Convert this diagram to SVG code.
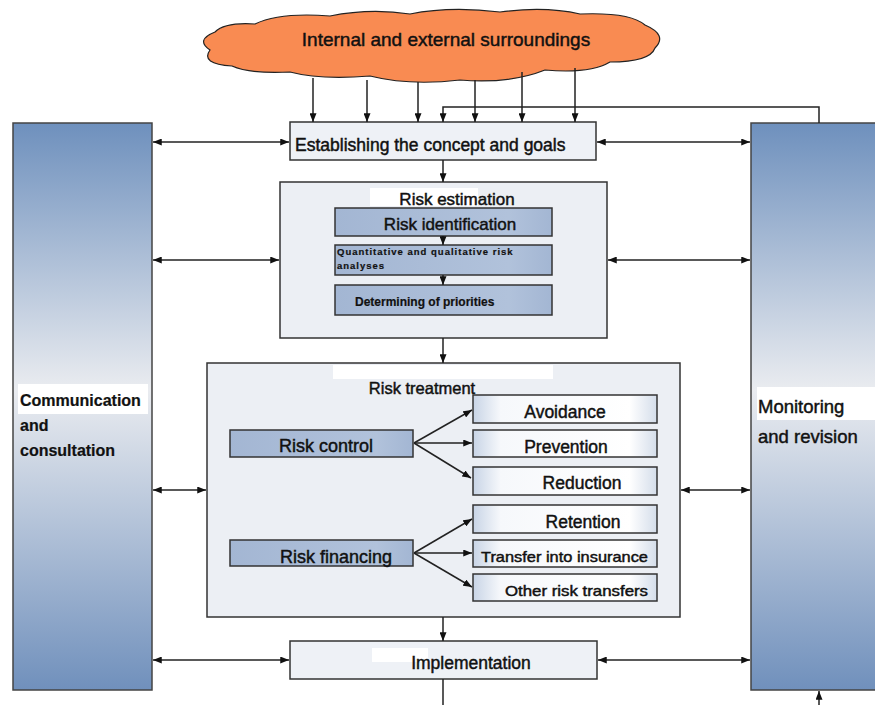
<svg xmlns="http://www.w3.org/2000/svg" width="875" height="705" viewBox="0 0 875 705">
<defs>
<linearGradient id="side" x1="0" y1="0" x2="0" y2="1">
<stop offset="0" stop-color="#6e90bd"/>
<stop offset="0.47" stop-color="#eaecf0"/>
<stop offset="1" stop-color="#7090bc"/>
</linearGradient>
<linearGradient id="inner" x1="0" y1="0" x2="1" y2="0">
<stop offset="0" stop-color="#a3b6d3"/>
<stop offset="0.8" stop-color="#b1c2db"/>
<stop offset="1" stop-color="#a3b6d3"/>
</linearGradient>
<linearGradient id="opt" x1="0" y1="0" x2="1" y2="0">
<stop offset="0" stop-color="#c8d4e6"/>
<stop offset="0.15" stop-color="#f6f8fb"/>
<stop offset="0.85" stop-color="#ffffff"/>
<stop offset="1" stop-color="#d4ddea"/>
</linearGradient>
<marker id="ah" viewBox="0 0 10 8" refX="10" refY="4" markerWidth="9" markerHeight="7" markerUnits="userSpaceOnUse" orient="auto-start-reverse">
<path d="M0,0 L10,4 L0,8 z" fill="#111"/>
</marker>
</defs>
<style>
text{font-family:"Liberation Sans",Arial,sans-serif;fill:#111;stroke:#111;stroke-width:0.45}
.box{stroke:#333;stroke-width:1.5}
.pale{fill:#eef1f6}
.panel{fill:#eceff4}
.inner{fill:url(#inner)}
.opt{fill:url(#opt)}
.side{fill:url(#side);stroke:#444;stroke-width:1.5}
.c{fill:none;stroke:#222;stroke-width:1.5}
.a{marker-end:url(#ah)}
.b{marker-start:url(#ah);marker-end:url(#ah)}
</style>
<rect width="875" height="705" fill="#fff"/>

<g id="cloud">
<path d="M210,50 Q195,40 215,32 Q225,22 255,24 Q280,12 330,16 Q370,8 410,14 Q450,6 500,12 Q545,6 580,14 Q630,12 645,25 Q668,35 655,48 Q650,62 610,62 Q590,74 545,70 Q510,84 460,80 Q410,86 370,76 Q320,80 290,72 Q250,74 232,66 Q200,64 210,50 Z" fill="#f98b52" stroke="#222" stroke-width="1.2"/>
<text x="446" y="46" font-size="19" text-anchor="middle">Internal and external surroundings</text>
</g>

<g id="communication">
<rect class="side" x="13" y="123" width="139" height="567"/>
<rect x="18" y="384" width="130" height="30" fill="#fff"/>
<text x="20" y="406" font-size="16" font-weight="bold" style="stroke-width:0.2">Communication</text>
<text x="20" y="431" font-size="16" font-weight="bold" style="stroke-width:0.2">and</text>
<text x="20" y="456" font-size="16" font-weight="bold" style="stroke-width:0.2">consultation</text>
</g>

<g id="monitoring">
<rect class="side" x="751" y="123" width="130" height="567"/>
<rect x="757" y="387" width="118" height="33" fill="#fff"/>
<text x="758" y="413" font-size="18.5">Monitoring</text>
<text x="758" y="443" font-size="18.5">and revision</text>
</g>

<g id="establishing">
<rect class="box pale" x="290" y="122" width="306" height="38"/>
<text x="295" y="151" font-size="17.5">Establishing the concept and goals</text>
</g>

<g id="risk-estimation">
<rect class="box panel" x="280" y="182" width="327" height="156"/>
<rect x="370" y="188" width="108" height="18" fill="#fff"/>
<text x="457" y="205" font-size="17" text-anchor="middle">Risk estimation</text>
</g>
<g id="risk-identification">
<rect class="box inner" x="335" y="208" width="217" height="28"/>
<text x="450" y="230" font-size="17" text-anchor="middle">Risk identification</text>
</g>
<g id="analyses">
<rect class="box inner" x="335" y="245" width="217" height="30"/>
<text x="337" y="255" font-size="9.5" font-weight="bold" letter-spacing="1" style="stroke-width:0.2">Quantitative and qualitative risk</text>
<text x="337" y="269" font-size="9.5" font-weight="bold" letter-spacing="1" style="stroke-width:0.2">analyses</text>
</g>
<g id="priorities">
<rect class="box inner" x="335" y="285" width="217" height="30"/>
<text x="355" y="306" font-size="12" font-weight="bold" style="stroke-width:0.2">Determining of priorities</text>
</g>

<g id="risk-treatment">
<rect class="box panel" x="207" y="363" width="473" height="254"/>
<rect x="333" y="365" width="220" height="14" fill="#fff"/>
<text x="422" y="394" font-size="16.5" text-anchor="middle">Risk treatment</text>
</g>
<g id="risk-control">
<rect class="box inner" x="230" y="430" width="183" height="27"/>
<text x="326" y="452" font-size="18" text-anchor="middle">Risk control</text>
</g>
<g id="risk-financing">
<rect class="box inner" x="230" y="540" width="183" height="26"/>
<text x="336" y="563" font-size="18" text-anchor="middle">Risk financing</text>
</g>
<g id="avoidance">
<rect class="box opt" x="473" y="395" width="184" height="28"/>
<text x="565" y="418" font-size="17.5" text-anchor="middle">Avoidance</text>
</g>
<g id="prevention">
<rect class="box opt" x="473" y="430" width="184" height="27"/>
<text x="566" y="453" font-size="17.5" text-anchor="middle">Prevention</text>
</g>
<g id="reduction">
<rect class="box opt" x="473" y="467" width="184" height="28"/>
<text x="582" y="489" font-size="17.5" text-anchor="middle">Reduction</text>
</g>
<g id="retention">
<rect class="box opt" x="473" y="505" width="184" height="28"/>
<text x="583" y="528" font-size="17.5" text-anchor="middle">Retention</text>
</g>
<g id="transfer-insurance">
<rect class="box opt" x="473" y="540" width="184" height="27"/>
<text x="481" y="562" font-size="14.5" textLength="167" lengthAdjust="spacingAndGlyphs">Transfer into insurance</text>
</g>
<g id="other-transfers">
<rect class="box opt" x="473" y="574" width="184" height="27"/>
<text x="505" y="596" font-size="14.5" textLength="143" lengthAdjust="spacingAndGlyphs">Other risk transfers</text>
</g>

<g id="implementation">
<rect class="box pale" x="290" y="641" width="307" height="38"/>
<rect x="372" y="648" width="56" height="14" fill="#fff"/>
<text x="471" y="669" font-size="17.5" text-anchor="middle">Implementation</text>
</g>

<g id="connectors">
<path class="c a" d="M313,78 V122"/>
<path class="c a" d="M367,80 V122"/>
<path class="c a" d="M418,82 V122"/>
<path class="c a" d="M475,80 V122"/>
<path class="c a" d="M522,72 V122"/>
<path class="c a" d="M575,68 V122"/>
<path class="c a" d="M819,123 V107 H443 V122"/>
<path class="c b" d="M153,142 H289"/>
<path class="c b" d="M597,142 H750"/>
<path class="c a" d="M443,160 V182"/>
<path class="c a" d="M443,236 V245"/>
<path class="c a" d="M443,275 V285"/>
<path class="c b" d="M153,260 H279"/>
<path class="c b" d="M608,260 H750"/>
<path class="c a" d="M443,338 V363"/>
<path class="c a" d="M414,443 L472,410"/>
<path class="c a" d="M414,443 H472"/>
<path class="c a" d="M414,443 L471,478"/>
<path class="c a" d="M414,553 L472,519"/>
<path class="c a" d="M414,553 H472"/>
<path class="c a" d="M414,553 L472,587"/>
<path class="c b" d="M153,490 H206"/>
<path class="c b" d="M681,490 H750"/>
<path class="c a" d="M443,617 V641"/>
<path class="c b" d="M153,660 H289"/>
<path class="c b" d="M598,660 H750"/>
<path class="c" d="M443,679 V705"/>
<path class="c a" d="M819,705 V691"/>
</g>
</svg>
